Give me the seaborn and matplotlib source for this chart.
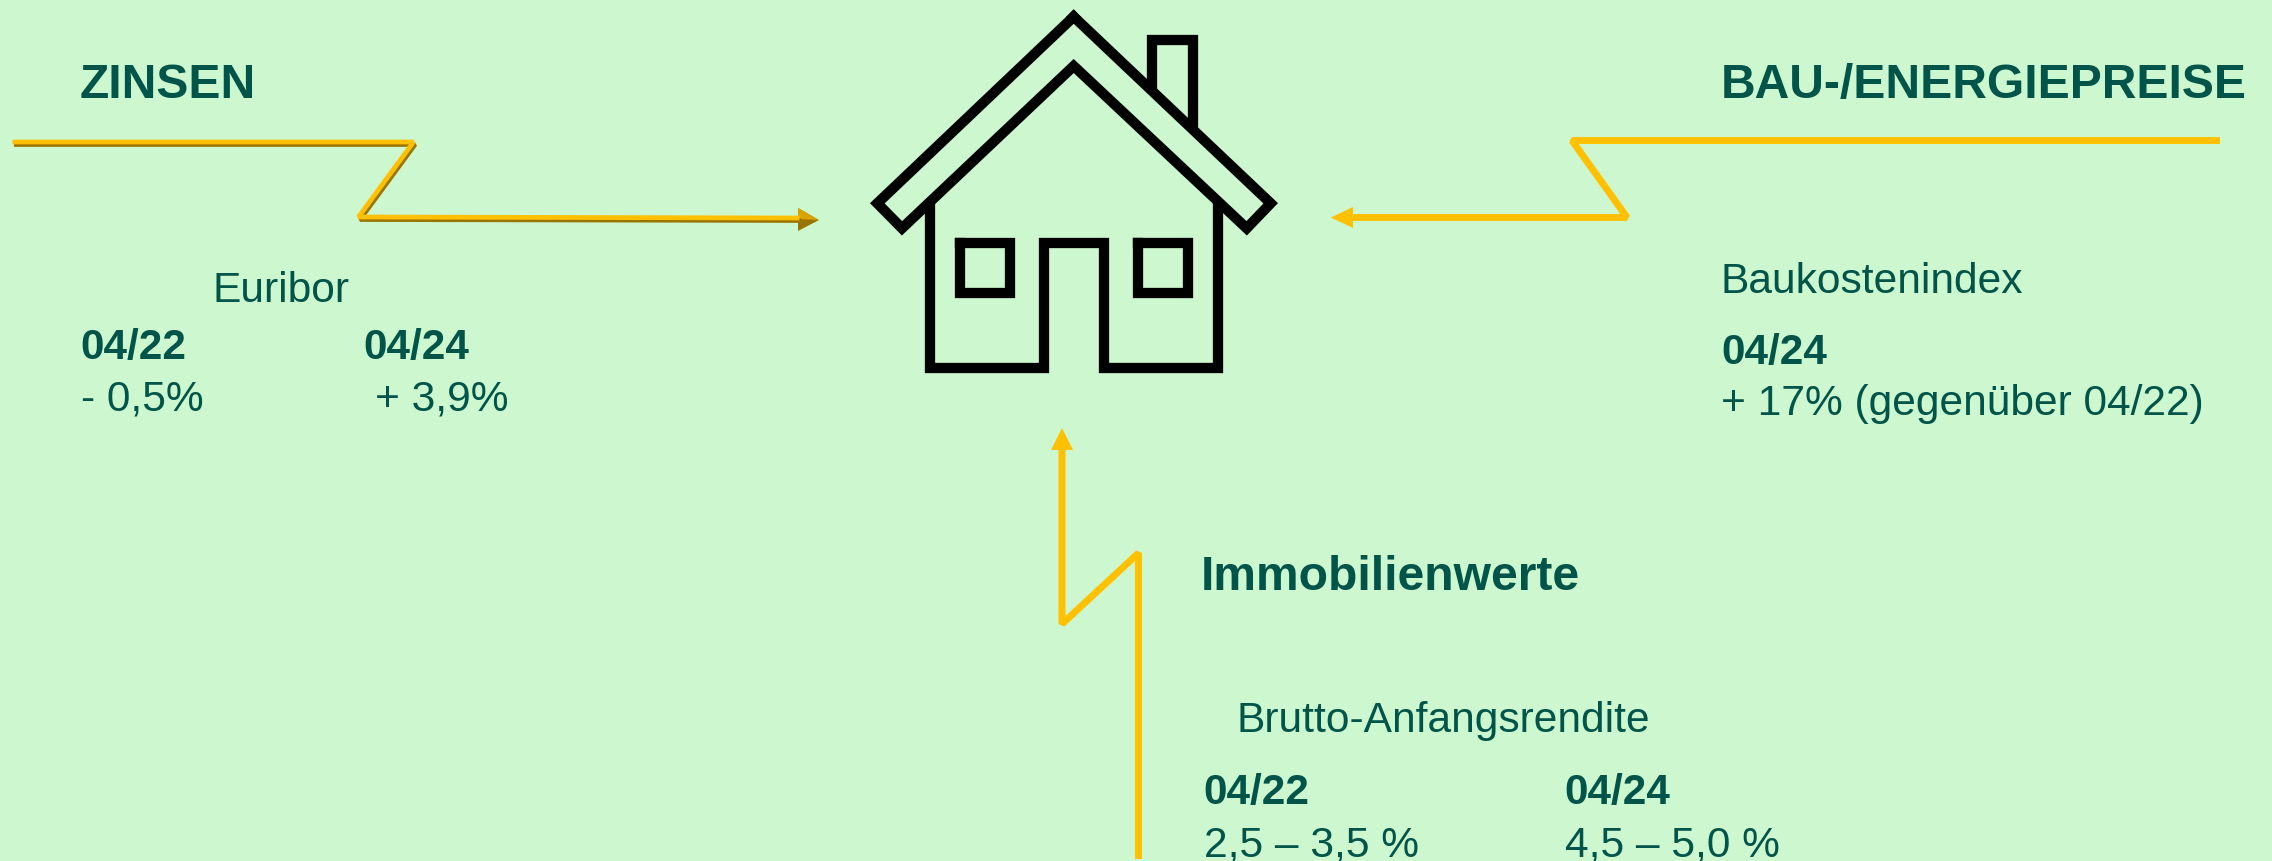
import matplotlib
matplotlib.use('Agg')
import matplotlib.pyplot as plt
import seaborn as sns

sns.set_theme(style='white')
plt.rcParams['font.family'] = ['Liberation Sans', 'DejaVu Sans']

BG = '#CDF7CF'
GREEN = '#00544A'
YELLOW = '#FFC000'
DARK = '#9A7400'

# house outline (picture pixels)
roof_x = [1073.7, 1270.7, 1246.7, 1073.7, 902, 877.3, 1073.7]
roof_y = [16.7, 203.3, 228.3, 66, 228.3, 203.3, 16.7]
walls_x = [930, 930, 1044.3, 1044.3, 1103.7, 1103.7, 1218, 1218]
walls_y = [203, 367.5, 367.5, 243.3, 243.3, 367.5, 367.5, 203]
win_left_x = [960, 1010, 1010, 960, 960]
win_right_x = [1138, 1188, 1188, 1138, 1138]
win_y = [243.3, 243.3, 293, 293, 243.3]
chimney_x = [1152, 1152, 1192.8, 1192.8]
chimney_y = [91.7, 40.3, 40.3, 129]

# zigzag arrows
zinsen_x = [13, 414, 359, 800]
zinsen_y = [143, 143, 218, 219]
zinsen_head_x = [798, 819, 798]
zinsen_head_y = [208, 220, 231]
bau_x = [2220, 1572, 1627, 1350]
bau_y = [140.5, 140.5, 217.5, 217.5]
bau_head_x = [1353, 1331, 1353]
bau_head_y = [207, 217.5, 228]
immo_x = [1138.5, 1138.5, 1062, 1062]
immo_y = [859, 553, 624, 447]
immo_head_x = [1051, 1062, 1073]
immo_head_y = [450, 428, 450]

# text
title_labels = ['ZINSEN', 'BAU-/ENERGIEPREISE', 'Immobilienwerte']
title_x = [80, 1721, 1201]
title_y = [98, 98, 590]
bold_labels = ['04/22', '04/24', '04/24', '04/22', '04/24']
bold_x = [80, 363, 1721, 1203, 1564]
bold_y = [359, 359, 364, 804, 804]
plain_labels = ['Euribor', '- 0,5%', '+ 3,9%', 'Baukostenindex',
                '+ 17% (gegenüber 04/22)', 'Brutto-Anfangsrendite',
                '2,5 – 3,5 %', '4,5 – 5,0 %']
plain_x = [213, 81, 375, 1721, 1721, 1237, 1204, 1565]
plain_y = [302, 410, 410, 293, 415, 732, 856, 856]


def path(ax, x, y, color, width, cap='butt', join='miter'):
    sns.lineplot(x=x, y=y, sort=False, estimator=None, errorbar=None, ax=ax,
                 color=color, linewidth=width, solid_joinstyle=join,
                 solid_capstyle=cap)


fig = plt.figure(figsize=(22.72, 8.61), dpi=100, facecolor=BG)
ax = fig.add_axes([0, 0, 1, 1])
ax.set_facecolor(BG)

for xs, ys in [(roof_x, roof_y), (win_left_x, win_y), (win_right_x, win_y)]:
    path(ax, xs, ys, 'black', 7.4, cap='projecting')
path(ax, walls_x, walls_y, 'black', 7.4)
path(ax, chimney_x, chimney_y, 'black', 7.4)

# the Zinsen arrow has a bevelled look, so a darker line runs under it
path(ax, [v + 1 for v in zinsen_x], [v + 1.5 for v in zinsen_y], DARK, 3.4, join='bevel')
path(ax, [v - 0.5 for v in zinsen_x], [v - 1 for v in zinsen_y], YELLOW, 3.4, join='bevel')
ax.fill(zinsen_head_x, zinsen_head_y, color=DARK, lw=0)
ax.fill(zinsen_head_x[:2] + [zinsen_head_x[0]],
        zinsen_head_y[:2] + [219], color='#D9A400', lw=0)

path(ax, bau_x, bau_y, YELLOW, 5, join='bevel')
ax.fill(bau_head_x, bau_head_y, color=YELLOW, lw=0)
path(ax, immo_x, immo_y, YELLOW, 5, join='bevel')
ax.fill(immo_head_x, immo_head_y, color=YELLOW, lw=0)

for label, x, y in zip(title_labels, title_x, title_y):
    ax.text(x, y, label, color=GREEN, fontsize=34.6, fontweight='bold', va='baseline')
for label, x, y in zip(bold_labels, bold_x, bold_y):
    ax.text(x, y, label, color=GREEN, fontsize=30.4, fontweight='bold', va='baseline')
for label, x, y in zip(plain_labels, plain_x, plain_y):
    ax.text(x, y, label, color=GREEN, fontsize=30.6, va='baseline')

ax.set_xlim(0, 2272)
ax.set_ylim(861, 0)
ax.set_axis_off()
fig.savefig('out.png', dpi=100, facecolor=BG)
